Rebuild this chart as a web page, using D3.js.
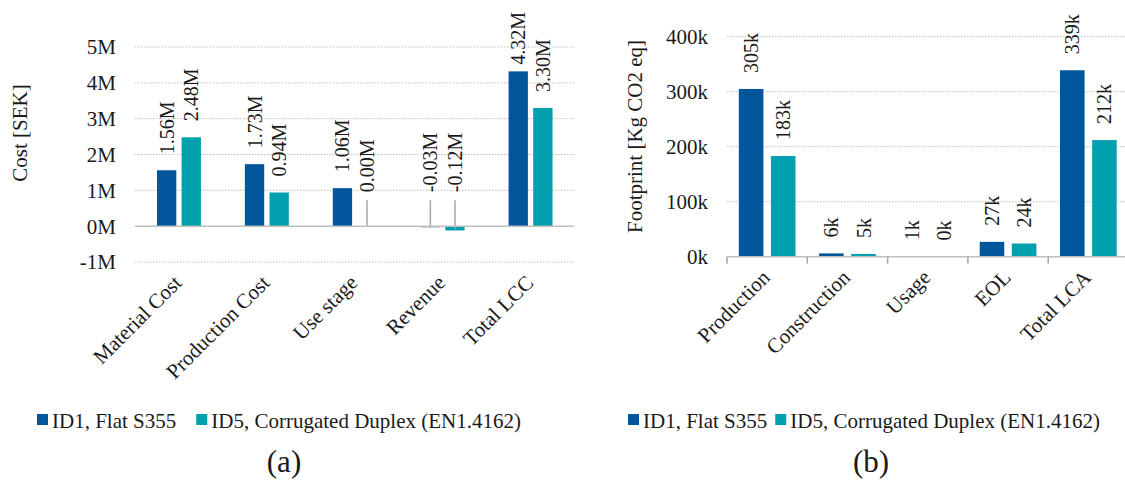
<html>
<head>
<script src="https://d3js.org/d3.v7.min.js"></script>
<style>
  body { margin: 0; background: #fff; }
  svg { font-family: "Liberation Serif", "Times New Roman", serif; }
  .grid line { stroke: #bfbfbf; stroke-width: 1; stroke-dasharray: 1.5,1.5; }
  .tick-label { font-size: 21px; fill: #1a1a1a; }
  .bar-label { font-size: 20px; fill: #1a1a1a; }
  .cat-label { font-size: 21px; fill: #1a1a1a; }
  .legend-text { font-size: 21px; fill: #1a1a1a; }
</style>
</head>
<body>
<div id="chart"></div>
<script>
// (a) life cycle cost, million SEK
var lccCategories = ["Material Cost", "Production Cost", "Use stage", "Revenue", "Total LCC"];
var lccFlat = [1.56, 1.73, 1.06, -0.03, 4.32];
var lccDuplex = [2.48, 0.94, 0.00, -0.12, 3.30];
var lccTicks = [-1, 0, 1, 2, 3, 4, 5];

// (b) footprint, thousand kg CO2 eq
var lcaCategories = ["Production", "Construction", "Usage", "EOL", "Total LCA"];
var lcaFlat = [305, 6, 1, 27, 339];
var lcaDuplex = [183, 5, 0.3, 24, 212];
var lcaTicks = [0, 100, 200, 300, 400];

var seriesNames = ["ID1, Flat S355", "ID5, Corrugated Duplex (EN1.4162)"];
var colors = ["#00559b", "#00a0ae"];

var svg = d3.select("#chart").append("svg")
  .attr("width", 1125)
  .attr("height", 489);

function drawChart(cfg) {
  var g = svg.append("g");
  var x0 = d3.scaleBand()
    .domain(cfg.categories)
    .range([cfg.left, cfg.left + cfg.step * cfg.categories.length])
    .paddingInner(cfg.pad)
    .paddingOuter(cfg.pad / 2);
  var x1 = d3.scaleBand()
    .domain([0, 1])
    .range([0, x0.bandwidth()])
    .paddingInner(cfg.innerPad);
  var y = d3.scaleLinear()
    .domain(d3.extent(cfg.ticks))
    .range([cfg.bottom, cfg.top]);

  // gridlines
  g.append("g").attr("class", "grid")
    .selectAll("line")
    .data(cfg.ticks.filter(function(t) { return t !== 0; }))
    .enter().append("line")
    .attr("x1", cfg.left).attr("x2", cfg.gridEnd)
    .attr("y1", function(d) { return y(d); })
    .attr("y2", function(d) { return y(d); });

  // tick labels
  g.append("g").selectAll("text")
    .data(cfg.ticks).enter().append("text")
    .attr("class", "tick-label")
    .attr("x", cfg.left - 19)
    .attr("y", function(d) { return y(d); })
    .attr("dy", "0.35em")
    .attr("text-anchor", "end")
    .text(function(d) { return d + cfg.unit; });

  // bars
  var rows = cfg.categories.map(function(c, i) {
    return { cat: c, values: [cfg.flat[i], cfg.duplex[i]] };
  });
  var groups = g.append("g").selectAll("g")
    .data(rows).enter().append("g")
    .attr("transform", function(d) { return "translate(" + x0(d.cat) + ",0)"; });
  groups.selectAll("rect")
    .data(function(d) { return d.values; })
    .enter().append("rect")
    .attr("x", function(d, i) { return x1(i); })
    .attr("width", x1.bandwidth())
    .attr("y", function(d) { return y(Math.max(0, d)); })
    .attr("height", function(d) { return Math.abs(y(d) - y(0)); })
    .attr("fill", function(d, i) { return colors[i]; });

  // zero line / axis
  g.append("line")
    .attr("x1", cfg.left).attr("x2", cfg.gridEnd)
    .attr("y1", y(0)).attr("y2", y(0))
    .attr("stroke", "#bfbfbf").attr("stroke-width", 1.5);
  if (cfg.axisTicks) {
    g.append("g").selectAll("line")
      .data(d3.range(cfg.categories.length + 1)).enter().append("line")
      .attr("x1", function(i) { return cfg.left + i * x0.step(); })
      .attr("x2", function(i) { return cfg.left + i * x0.step(); })
      .attr("y1", y(0)).attr("y2", y(0) + 7)
      .attr("stroke", "#a6a6a6").attr("stroke-width", 1.5);
  }

  // value labels
  groups.each(function(row) {
    var grp = d3.select(this);
    row.values.forEach(function(v, i) {
      var cx = x1(i) + x1.bandwidth() / 2;
      var small = Math.abs(v) < cfg.smallLimit;
      var base = small ? y(0) - 34 : y(Math.max(0, v)) - 16;
      var t = grp.append("text")
        .attr("class", "bar-label")
        .text(cfg.format(v));
      var len = t.node().getComputedTextLength();
      base = Math.max(base, 12 + len);
      t.attr("transform", "translate(" + cx + "," + base + ") rotate(-90)")
        .attr("dy", "0.35em");
      if (small) {
        grp.append("line")
          .attr("x1", cx).attr("x2", cx)
          .attr("y1", base + 8)
          .attr("y2", (y(v) + y(0)) / 2 + (v < 0 ? 1 : 0))
          .attr("stroke", "#a6a6a6").attr("stroke-width", 1.5);
      }
    });
  });

  // category labels
  g.append("g").selectAll("text")
    .data(cfg.categories).enter().append("text")
    .attr("class", "cat-label")
    .attr("text-anchor", "end")
    .attr("transform", function(d) {
      var cx = x0(d) + x0.bandwidth() / 2 + 4;
      return "translate(" + cx + "," + (cfg.bottom + cfg.catDy) + ") rotate(-45)";
    })
    .text(function(d) { return d; });

  // axis title
  g.append("text")
    .attr("class", "tick-label")
    .attr("text-anchor", "middle")
    .attr("transform", "translate(" + cfg.titleX + "," + cfg.titleY + ") rotate(-90)")
    .attr("dy", "0.35em")
    .text(cfg.yTitle);

  // legend
  var lx = cfg.legendX;
  seriesNames.forEach(function(name, i) {
    g.append("rect")
      .attr("x", lx).attr("y", 414)
      .attr("width", 11).attr("height", 11)
      .attr("fill", colors[i]);
    var t = g.append("text")
      .attr("class", "legend-text")
      .attr("x", lx + 15).attr("y", 428)
      .text(name);
    lx += 15 + t.node().getComputedTextLength() + cfg.legendGap;
  });

  // sub caption
  g.append("text")
    .attr("x", cfg.captionX).attr("y", 472)
    .attr("text-anchor", "middle")
    .style("font-size", "31px")
    .attr("fill", "#1a1a1a")
    .text(cfg.caption);
}

drawChart({
  categories: lccCategories, flat: lccFlat, duplex: lccDuplex, ticks: lccTicks,
  unit: "M", format: function(v) { return v.toFixed(2) + "M"; },
  left: 135, step: 87.9, gridEnd: 574, top: 47, bottom: 262,
  pad: 0.5, innerPad: 0.215, smallLimit: 0.2, axisTicks: false,
  catDy: 22, titleX: 20, titleY: 133, yTitle: "Cost [SEK]",
  legendX: 37, legendGap: 20, captionX: 284, caption: "(a)"
});

drawChart({
  categories: lcaCategories, flat: lcaFlat, duplex: lcaDuplex, ticks: lcaTicks,
  unit: "k", format: function(v) { return Math.round(v) + "k"; },
  left: 727, step: 80.3, gridEnd: 1125, top: 36.7, bottom: 256.7,
  pad: 0.294, innerPad: 0.235, smallLimit: 0, axisTicks: true,
  catDy: 22, titleX: 635, titleY: 136.5, yTitle: "Footprint [Kg CO2 eq]",
  legendX: 628, legendGap: 8, captionX: 871, caption: "(b)"
});
</script>
</body>
</html>
